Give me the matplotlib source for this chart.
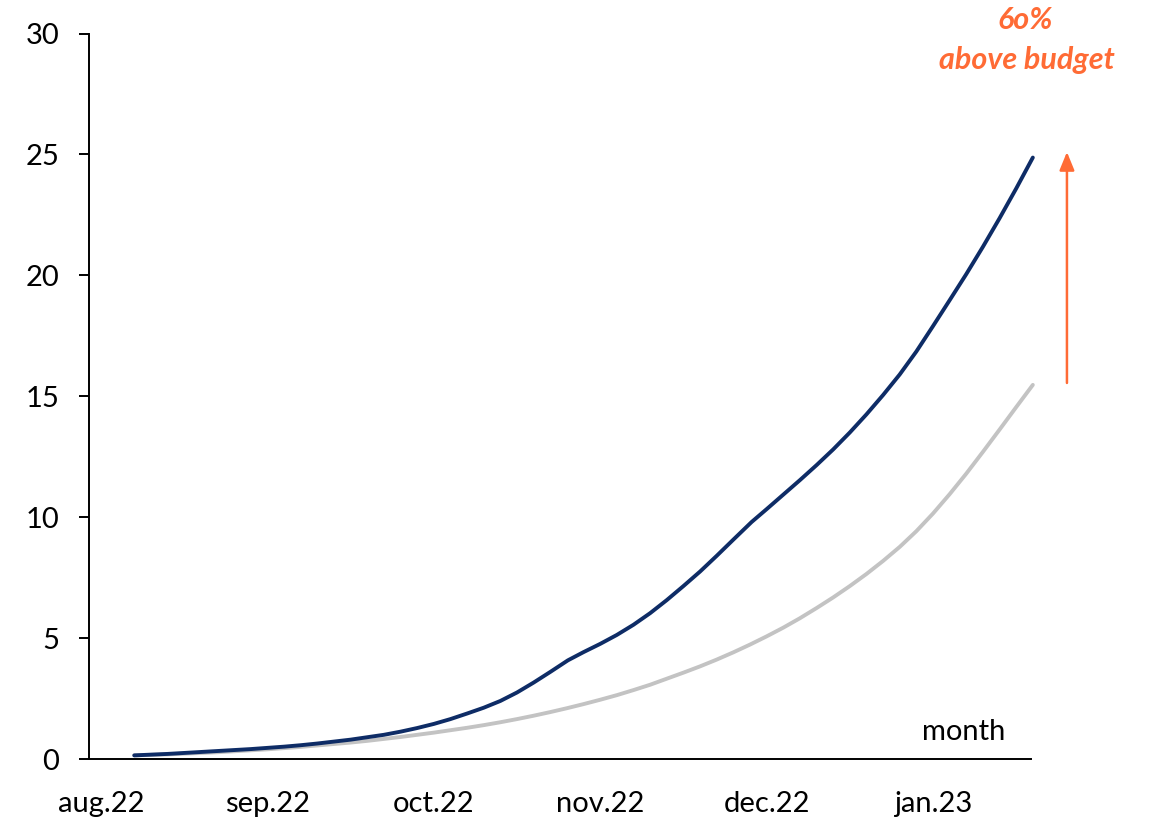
import matplotlib
matplotlib.use("Agg")
import matplotlib.pyplot as plt

# ---- data ----
month_labels = ["aug.22", "sep.22", "oct.22", "nov.22", "dec.22", "jan.23"]
month_pos = [0, 1, 2, 3, 4, 5]

actual_x = [0.2, 0.3, 0.4, 0.5, 0.6, 0.7, 0.8, 0.9, 1.0, 1.1, 1.2, 1.3, 1.4, 1.5, 1.6, 1.7,
            1.8, 1.9, 2.0, 2.1, 2.2, 2.3, 2.4, 2.5, 2.6, 2.7, 2.806,
            2.9, 3.0, 3.1, 3.2, 3.3, 3.4, 3.5, 3.6, 3.7, 3.8, 3.91,
            4.0, 4.1, 4.2, 4.3, 4.4, 4.5, 4.6, 4.7, 4.8, 4.9, 5.0, 5.1, 5.2, 5.3, 5.4, 5.5, 5.6]
actual_y = [0.15, 0.18, 0.21, 0.25, 0.29, 0.33, 0.37, 0.41, 0.46, 0.51, 0.57, 0.64, 0.72, 0.80,
            0.90, 1.00, 1.13, 1.28, 1.45, 1.65, 1.88, 2.12, 2.40, 2.75, 3.16, 3.60, 4.08,
            4.42, 4.76, 5.13, 5.55, 6.03, 6.57, 7.15, 7.75, 8.40, 9.07, 9.80,
            10.33, 10.93, 11.53, 12.15, 12.80, 13.50, 14.25, 15.05, 15.90, 16.85, 17.90,
            18.97, 20.05, 21.18, 22.36, 23.59, 24.87]

budget_x = [0.2, 0.3, 0.4, 0.5, 0.6, 0.7, 0.8, 0.9, 1.0, 1.1, 1.2, 1.3, 1.4, 1.5, 1.6, 1.7,
            1.8, 1.9, 2.0, 2.1, 2.2, 2.3, 2.4, 2.5, 2.6, 2.7, 2.8, 2.9, 3.0, 3.1, 3.2, 3.3,
            3.4, 3.5, 3.6, 3.7, 3.8, 3.9, 4.0, 4.1, 4.2, 4.3, 4.4, 4.5, 4.6, 4.7, 4.8, 4.9,
            5.0, 5.1, 5.2, 5.3, 5.4, 5.5, 5.6]
budget_y = [0.15, 0.17, 0.19, 0.22, 0.25, 0.28, 0.32, 0.36, 0.40, 0.45, 0.50, 0.56, 0.62, 0.68,
            0.75, 0.83, 0.91, 1.00, 1.09, 1.19, 1.29, 1.40, 1.52, 1.65, 1.79, 1.94, 2.10, 2.27,
            2.45, 2.64, 2.85, 3.07, 3.32, 3.57, 3.83, 4.11, 4.41, 4.73, 5.07, 5.43, 5.82, 6.24,
            6.68, 7.15, 7.65, 8.19, 8.77, 9.42, 10.15, 10.95, 11.80, 12.70, 13.62, 14.55, 15.47]

y_ticks = [0, 5, 10, 15, 20, 25, 30]

annot_line1 = "6o%"
annot_line2 = "above budget"

# ---- style ----
plt.rcParams['font.family'] = ['Lato', 'DejaVu Sans']
navy = "#0E2C66"
grey = "#C3C3C3"
orange = "#FF6B35"

fig = plt.figure(figsize=(11.5, 8.25), dpi=100)
ax = fig.add_axes([88.5 / 1150, 1 - 759 / 825, (1031 - 88.5) / 1150, (759 - 33.5) / 825])

ax.plot(budget_x, budget_y, color=grey, lw=2.8, solid_capstyle='round', clip_on=False)
ax.plot(actual_x, actual_y, color=navy, lw=2.8, solid_capstyle='round', clip_on=False)

ax.set_xlim(-0.075, 5.589)
ax.set_ylim(0, 30)

ax.spines['top'].set_visible(False)
ax.spines['right'].set_visible(False)
ax.spines['left'].set_linewidth(1.4)
ax.spines['bottom'].set_linewidth(1.4)

ax.set_yticks(y_ticks)
ax.set_yticklabels([str(v) for v in y_ticks])
ax.tick_params(axis='y', length=7, width=1.4, pad=14, labelsize=21, colors='black')
ax.set_xticks(month_pos)
ax.set_xticklabels(month_labels)
ax.tick_params(axis='x', length=0, pad=23, labelsize=21)

ax.text(5.433, 1.1, "month", ha='right', va='center', fontsize=21)

# arrow
ax.annotate("", xy=(5.805, 25.1), xytext=(5.805, 15.55), annotation_clip=False,
            arrowprops=dict(arrowstyle="-|>,head_length=1.1,head_width=0.45",
                            color=orange, lw=1.8, shrinkA=0, shrinkB=0))

fig.text(1025 / 1150, 1 - 20 / 825, annot_line1, ha='center', va='center', fontsize=22,
         fontweight='bold', fontstyle='italic', color=orange)
fig.text(1027 / 1150, 1 - 60 / 825, annot_line2, ha='center', va='center', fontsize=22,
         fontweight='bold', fontstyle='italic', color=orange)

fig.savefig("out.png", dpi=100)
